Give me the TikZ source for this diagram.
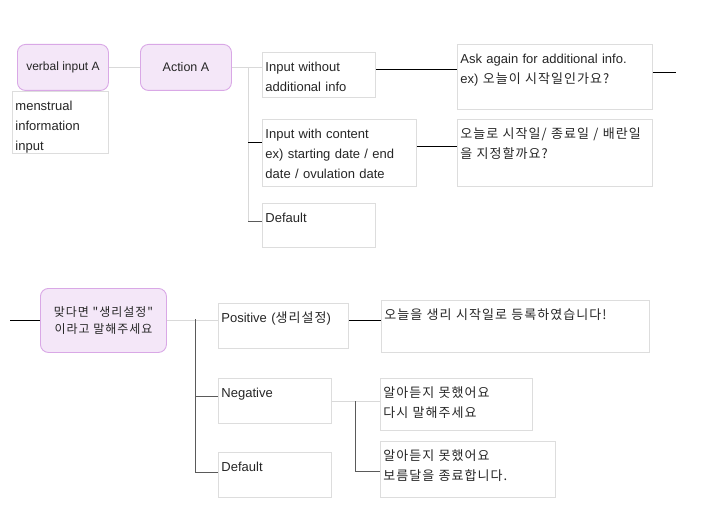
\documentclass[tikz,border=0pt]{standalone}
\usepackage{fontspec}
\setmainfont{Liberation Sans}
\newfontfamily\kr[LetterSpace=8]{Noto Sans CJK KR}
\definecolor{rootfill}{HTML}{F4E7F8}
\definecolor{rootline}{HTML}{D9A8E6}
\definecolor{leafline}{HTML}{DDDDDD}
\definecolor{paleline}{HTML}{D9D9D9}
\definecolor{darkline}{HTML}{5A5A5A}

\begin{document}
\begin{tikzpicture}[
x=1bp, y=-1bp, line width=0.9bp,
root/.style={
    draw=rootline, fill=rootfill, rounded corners=8bp,
    anchor=north west, align=center, inner sep=0pt,
    text=black!85, font=\fontsize{12.5bp}{17bp}\selectfont},
leaf/.style 2 args={
    draw=leafline, fill=white, anchor=north west,
    inner xsep=3bp, inner ysep=0pt,
    text width=#1-6bp, text height=19bp, text depth=#2-19bp,
    align=left, text=black!85, font=\fontsize{13bp}{20bp}\selectfont},
pale/.style={draw=paleline},
dark/.style={draw=darkline},
]
\useasboundingbox (0,0) rectangle (704,511);

% verbal input A
\node[root, minimum width=91bp, minimum height=46bp, font=\fontsize{12bp}{17bp}\selectfont] (verbal) at (17,44) {verbal input A};
\node[root, minimum width=91bp, minimum height=46bp] (action) at (140,44) {Action A};
\node[leaf={96bp}{62bp}] (menstrual) at (12,91) {menstrual\\information\\input};

\node[leaf={113bp}{45bp}] (inwithout) at (262,52) {Input without\\additional info};
\node[leaf={154bp}{67bp}] (inwith) at (262,119) {Input with content\\ex) starting date / end\\date / ovulation date};
\node[leaf={113bp}{44bp}] (defaultA) at (262,203) {Default};

\node[leaf={195bp}{65bp}] (askagain) at (457,44) {Ask again for additional info.\\ex) {\kr 오늘이 시작일인가요?}};
\node[leaf={195bp}{67bp}] (setdate) at (457,119) {{\kr 오늘로 시작일/ 종료일 / 배란일}\\{\kr 을 지정할까요?}};

\coordinate (forkA) at (248,68);
\coordinate (outA) at (676,72);
\path ([yshift=-23bp]inwith.north west) coordinate (inwithin)
      ([yshift=-18bp]defaultA.north west) coordinate (defaultAin);

\draw[pale] (verbal.east) -- (action.west);
\draw[pale] (action.east) -- (action.east -| inwithout.west);
\draw[pale] (forkA) -- (forkA |- defaultAin);
\draw (forkA |- inwithin) -- (inwithin);
\draw[dark] (forkA |- defaultAin) -- (defaultAin);
\draw ([yshift=-17bp]inwithout.north east) coordinate (p) -- (p -| askagain.west);
\draw ([yshift=-27bp]inwith.north east) coordinate (p) -- (p -| setdate.west);
\draw (outA -| askagain.east) -- (outA);

% confirm
\node[root, minimum width=126bp, minimum height=64bp, font=\kr\fontsize{12bp}{17bp}\selectfont] (confirm) at (40,288) {맞다면 "생리설정"\\이라고 말해주세요};

\node[leaf={130bp}{45bp}] (positive) at (218,303) {Positive ({\kr 생리설정})};
\node[leaf={113bp}{45bp}] (negative) at (218,378) {Negative};
\node[leaf={113bp}{45bp}] (defaultB) at (218,452) {Default};

\node[leaf={268bp}{52bp}] (registered) at (381,300) {{\kr 오늘을 생리 시작일로 등록하였습니다!}};
\node[leaf={152bp}{52bp}] (retry) at (380,378) {{\kr 알아듣지 못했어요}\\{\kr 다시 말해주세요}};
\node[leaf={175bp}{56bp}] (quit) at (380,441) {{\kr 알아듣지 못했어요}\\{\kr 보름달을 종료합니다.}};

\coordinate (inB) at (10,320);
\coordinate (forkB) at (195,319);
\coordinate (forkC) at (355,401);
\path ([yshift=-18bp]negative.north west) coordinate (negativein)
      ([yshift=-20bp]defaultB.north west) coordinate (defaultBin);

\draw (inB) -- (inB -| confirm.west);
\draw[pale] (confirm.east) -- (confirm.east -| positive.west);
\draw[dark] (forkB) -- (forkB |- defaultBin);
\draw[dark] (forkB |- negativein) -- (negativein);
\draw[dark] (forkB |- defaultBin) -- (defaultBin);
\draw ([yshift=-17bp]positive.north east) coordinate (p) -- (p -| registered.west);
\draw[pale] (negative.east |- forkC) -- (forkC -| retry.west);
\draw[dark] (forkC) |- ([yshift=-30bp]quit.north west);
%\draw (negative.east) -- (retry.west);

\end{tikzpicture}
\end{document}
